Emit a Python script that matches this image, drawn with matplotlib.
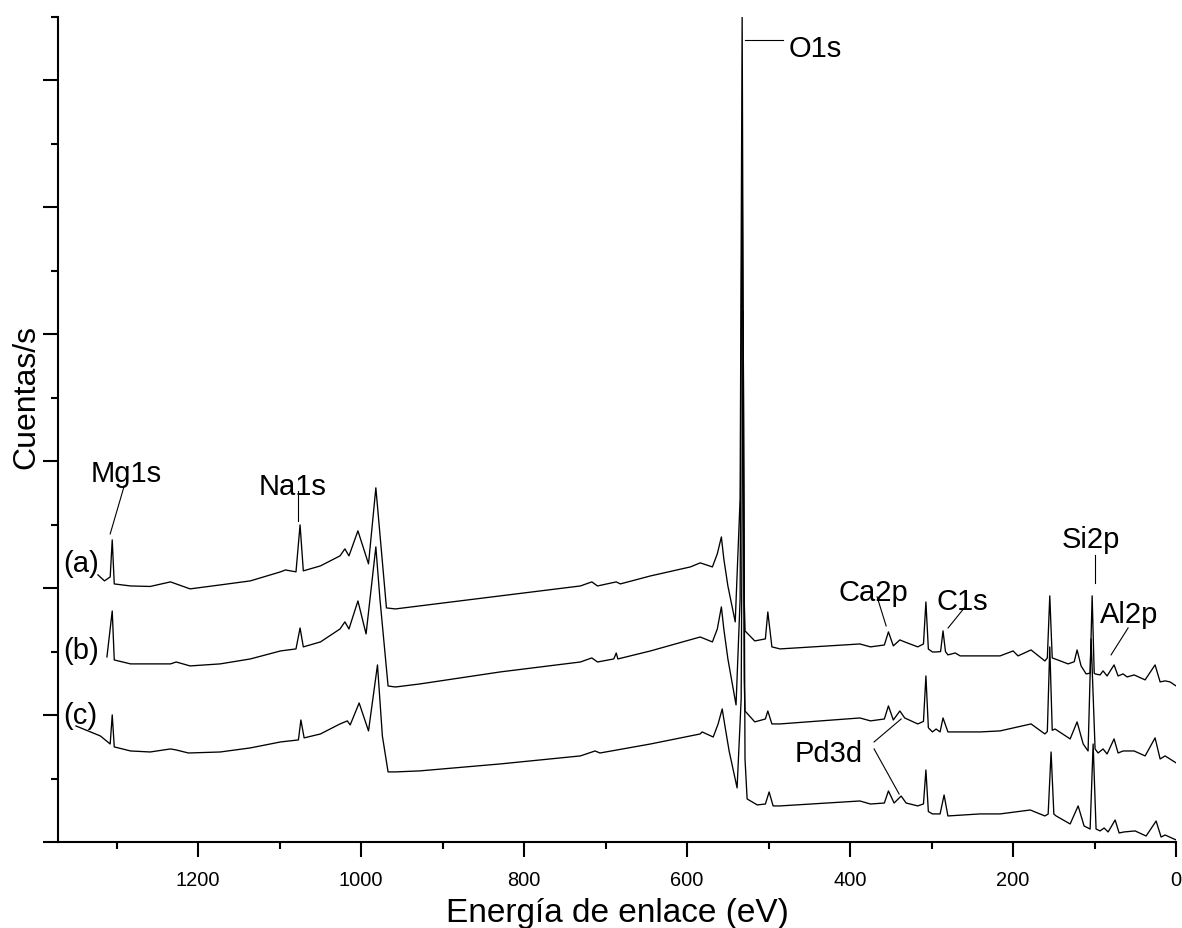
import numpy as np
import matplotlib.pyplot as plt
from matplotlib.ticker import MultipleLocator, NullFormatter

plt.rcParams['font.family'] = ['Liberation Sans', 'DejaVu Sans']

# espectro (a)
energy_a = [1323, 1315, 1308, 1305.5, 1303, 1283, 1259, 1234, 1227, 1210, 1173, 1136,
            1099, 1093, 1080, 1075, 1071, 1050, 1026, 1020, 1015, 1004, 991, 982, 969,
            958, 928, 829, 731, 717, 710, 687, 682, 645, 596, 584, 569, 563, 558, 555,
            550, 541, 535, 532.5, 530, 529, 517, 504, 501, 496, 486, 388, 375, 358, 353,
            347, 339, 333, 317, 310, 307, 304, 299, 294.5, 289, 286, 283, 280, 271, 265,
            216, 200, 194, 178, 161, 158, 155, 152, 148.5, 132.5, 125, 121.5, 116.6,
            110.4, 105.5, 103, 100.5, 99.4, 93.3, 89.6, 84.7, 76.1, 71.2, 65, 60.1, 51.5,
            38, 25.8, 19.6, 13.5, 7.4, 0]
counts_a = [2.104, 2.057, 2.088, 2.380, 2.033, 2.017, 2.013, 2.049, 2.033, 1.994, 2.025,
            2.057, 2.128, 2.143, 2.128, 2.498, 2.136, 2.175, 2.254, 2.309, 2.254, 2.451,
            2.191, 2.790, 1.844, 1.836, 1.860, 1.939, 2.017, 2.049, 2.017, 2.049, 2.033,
            2.096, 2.167, 2.199, 2.167, 2.270, 2.403, 2.230, 2.017, 1.734, 2.703, 6.50,
            1.915, 1.663, 1.584, 1.600, 1.812, 1.537, 1.521, 1.560, 1.537, 1.552, 1.655,
            1.545, 1.592, 1.576, 1.537, 1.560, 1.891, 1.520, 1.497, 1.497, 1.500, 1.663,
            1.500, 1.474, 1.489, 1.466, 1.466, 1.505, 1.466, 1.513, 1.426, 1.450, 1.939,
            1.450, 1.442, 1.403, 1.420, 1.513, 1.387, 1.324, 1.330, 1.939, 1.330, 1.324,
            1.316, 1.348, 1.308, 1.395, 1.308, 1.324, 1.300, 1.316, 1.277, 1.395, 1.261,
            1.269, 1.261, 1.229]

# espectro (b)
energy_b = [1312, 1305.5, 1303, 1283, 1234, 1227, 1210, 1173, 1136, 1099, 1080, 1075,
            1071, 1050, 1026, 1020, 1015, 1004, 994, 982, 977, 967, 958, 928, 829, 731,
            717, 710, 690, 687, 685, 645, 584, 569, 563, 558, 555, 550, 540, 535, 532.5,
            530, 529, 517, 504, 501, 496, 486, 388, 375, 358, 353, 347, 339, 333, 317,
            310, 307, 304, 299, 294.5, 289.6, 286, 280, 240.5, 216, 178, 161, 158, 155,
            152, 148.5, 130, 121.5, 114, 108, 104.3, 99.4, 95.7, 89.6, 84.7, 76.1, 71.2,
            65, 51.5, 38, 25.8, 19.6, 13.5, 0]
counts_b = [1.458, 1.820, 1.434, 1.403, 1.403, 1.418, 1.387, 1.403, 1.442, 1.505, 1.521,
            1.686, 1.537, 1.576, 1.678, 1.734, 1.678, 1.899, 1.639, 2.325, 1.915, 1.229,
            1.221, 1.245, 1.340, 1.418, 1.450, 1.418, 1.442, 1.489, 1.442, 1.505, 1.615,
            1.576, 1.678, 1.852, 1.678, 1.442, 1.080, 1.915, 5.485, 1.284, 1.032, 0.946,
            0.969, 1.032, 0.930, 0.930, 0.977, 0.954, 0.969, 1.072, 0.961, 1.032, 0.977,
            0.930, 0.950, 1.308, 0.900, 0.867, 0.890, 0.867, 0.977, 0.867, 0.867, 0.875,
            0.930, 0.851, 0.870, 1.537, 0.880, 0.890, 0.812, 0.946, 0.772, 0.717, 1.600,
            0.733, 0.701, 0.733, 0.693, 0.812, 0.701, 0.717, 0.717, 0.678, 0.820, 0.654,
            0.678, 0.623]

# espectro (c)
energy_c = [1350, 1320, 1308, 1305.5, 1303, 1283, 1259, 1234, 1227, 1212, 1173, 1136,
            1099, 1077, 1074, 1070, 1050, 1026, 1017, 1013.5, 1002.5, 991, 980, 974, 967,
            958, 928, 829, 731, 713, 707, 686, 645, 584, 581.6, 568, 562, 557, 553, 548.5,
            538.7, 533.7, 531.3, 529, 526.4, 514, 504, 499.4, 494.5, 486, 388, 375, 358,
            353, 346, 337.4, 331.3, 317, 310, 307, 304, 299, 289.6, 284.7, 280, 240.5,
            216, 179, 161, 157, 153.4, 150, 147.2, 130, 120.2, 112.9, 105.5, 101.8, 98.2,
            93.3, 88.3, 83.4, 74.8, 69.9, 63.8, 50.3, 36.8, 24.5, 18.4, 13.5, 0]
counts_c = [0.914, 0.835, 0.772, 1.001, 0.749, 0.717, 0.709, 0.733, 0.725, 0.701, 0.709,
            0.741, 0.788, 0.804, 0.961, 0.820, 0.851, 0.930, 0.954, 0.922, 1.095, 0.875,
            1.395, 0.835, 0.552, 0.552, 0.560, 0.615, 0.678, 0.717, 0.701, 0.725, 0.772,
            0.851, 0.867, 0.827, 0.930, 1.048, 0.890, 0.717, 0.426, 1.127, 4.184, 0.654,
            0.339, 0.292, 0.299, 0.394, 0.284, 0.284, 0.323, 0.299, 0.307, 0.402, 0.307,
            0.362, 0.307, 0.284, 0.300, 0.567, 0.240, 0.221, 0.221, 0.370, 0.205, 0.221,
            0.221, 0.252, 0.205, 0.220, 0.709, 0.220, 0.205, 0.142, 0.284, 0.126, 0.102,
            0.772, 0.102, 0.087, 0.110, 0.079, 0.173, 0.071, 0.079, 0.087, 0.047, 0.165,
            0.039, 0.055, 0.016]

fig = plt.figure(figsize=(11.82, 9.29), dpi=100)
ax = fig.add_axes([0.0491, 0.0926, 0.9459, 0.8881])

for e, c in [(energy_a, counts_a), (energy_b, counts_b), (energy_c, counts_c)]:
    ax.plot(e, c, color='k', lw=0.95)

ax.set_xlim(1372, 0)
ax.set_ylim(0, 6.5)
ax.spines['top'].set_visible(False)
ax.spines['right'].set_visible(False)
ax.spines['left'].set_linewidth(1.5)
ax.spines['bottom'].set_linewidth(1.5)

ax.xaxis.set_major_locator(MultipleLocator(200))
ax.xaxis.set_minor_locator(MultipleLocator(100))
ax.yaxis.set_major_locator(MultipleLocator(1))
ax.yaxis.set_minor_locator(MultipleLocator(0.5))
ax.yaxis.set_major_formatter(NullFormatter())
ax.tick_params(which='major', length=10.8, width=1.5, direction='out')
ax.tick_params(which='minor', length=5, width=1.5, direction='out')
ax.tick_params(axis='x', labelsize=14.4, pad=9.5)

ax.set_xlabel('Energía de enlace (eV)', fontsize=24, va='top')
ax.xaxis.set_label_coords(0.5, -0.067)
ax.set_ylabel('Cuentas/s', fontsize=23, va='center')
ax.yaxis.set_label_coords(-0.028, 0.54)

fs = 21
lw_lead = 0.8
ax.text(1332.5, 2.845, 'Mg1s', fontsize=fs)
ax.plot([1290.8, 1308], [2.805, 2.427], color='k', lw=lw_lead)
ax.text(1126.4, 2.742, 'Na1s', fontsize=fs)
ax.plot([1077.3, 1077.3], [2.766, 2.530], color='k', lw=lw_lead)
ax.text(476, 6.194, 'O1s', fontsize=fs)
ax.plot([528.8, 482.2], [6.32, 6.32], color='k', lw=lw_lead)
ax.text(139.9, 2.325, 'Si2p', fontsize=fs)
ax.plot([99.4, 99.4], [2.262, 2.041], color='k', lw=lw_lead)
ax.text(93.3, 1.734, 'Al2p', fontsize=fs)
ax.plot([58.9, 79.8], [1.686, 1.474], color='k', lw=lw_lead)
ax.text(294.5, 1.836, 'C1s', fontsize=fs)
ax.plot([258.9, 279.8], [1.852, 1.686], color='k', lw=lw_lead)
ax.text(414.7, 1.907, 'Ca2p', fontsize=fs)
ax.plot([366.9, 355.8], [1.931, 1.702], color='k', lw=lw_lead)
ax.text(467.5, 0.638, 'Pd3d', fontsize=fs)
ax.plot([370.6, 337.4], [0.788, 0.969], color='k', lw=lw_lead)
ax.plot([370.6, 339.9], [0.733, 0.378], color='k', lw=lw_lead)
ax.text(1365.6, 2.136, '(a)', fontsize=fs)
ax.text(1365.6, 1.450, '(b)', fontsize=fs)
ax.text(1365.6, 0.938, '(c)', fontsize=fs)

fig.savefig('out.png', dpi=100)
